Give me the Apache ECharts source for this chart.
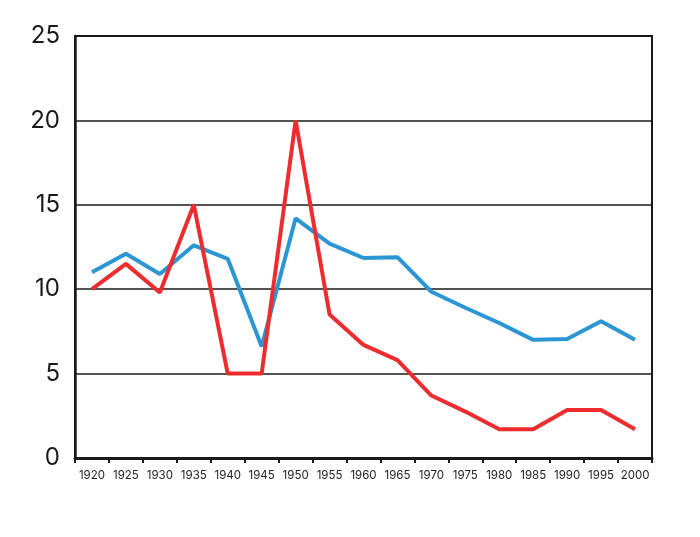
<!DOCTYPE html>
<html>
<head>
<meta charset="utf-8">
<script src="https://cdn.jsdelivr.net/npm/echarts@6/dist/echarts.min.js"></script>
<style>
html, body { margin: 0; padding: 0; background: #fff; }
#main { width: 700px; height: 537px; }
</style>
</head>
<body>
<div id="main"></div>
<script>
var years = ['1920', '1925', '1930', '1935', '1940', '1945', '1950', '1955', '1960',
    '1965', '1970', '1975', '1980', '1985', '1990', '1995', '2000'];
var blueValues = [11, 12.1, 10.9, 12.6, 11.8, 6.6, 14.2, 12.7, 11.85, 11.9, 9.85, 8.9, 8.0, 7.0, 7.05, 8.1, 7.0];
var redValues = [10, 11.5, 9.8, 15, 5, 5, 20, 8.5, 6.7, 5.8, 3.7, 2.75, 1.7, 1.7, 2.85, 2.85, 1.7];

var myChart = echarts.init(document.getElementById('main'));
var option = {
    animation: false,
    grid: {
        left: 75, right: 48, top: 36, bottom: 79,
        show: true,
        borderColor: '#1a1a1a',
        borderWidth: 2
    },
    xAxis: {
        type: 'category',
        data: years,
        boundaryGap: true,
        axisLine: { lineStyle: { color: '#1a1a1a', width: 3 } },
        axisTick: { show: true, length: 5, interval: 0, lineStyle: { color: '#1a1a1a', width: 2 } },
        axisLabel: { color: '#222', fontSize: 11.5, fontFamily: 'Inter', margin: 12, interval: 0, hideOverlap: false }
    },
    yAxis: {
        type: 'value',
        min: 0,
        max: 25,
        interval: 5,
        axisLine: { show: true, lineStyle: { color: '#1a1a1a', width: 2.5 } },
        axisTick: { show: false },
        axisLabel: { color: '#1a1a1a', fontSize: 24, fontFamily: 'Inter', margin: 15 },
        splitLine: { lineStyle: { color: '#1a1a1a', width: 1.5 } }
    },
    series: [{
        name: 'blue',
        type: 'line',
        data: blueValues,
        symbol: 'none',
        lineStyle: { color: '#2b96d3', width: 4 },
        z: 3
    }, {
        name: 'red',
        type: 'line',
        data: redValues,
        symbol: 'none',
        lineStyle: { color: '#ec2c2e', width: 4 },
        z: 4
    }]
};
myChart.setOption(option);
</script>
</body>
</html>
